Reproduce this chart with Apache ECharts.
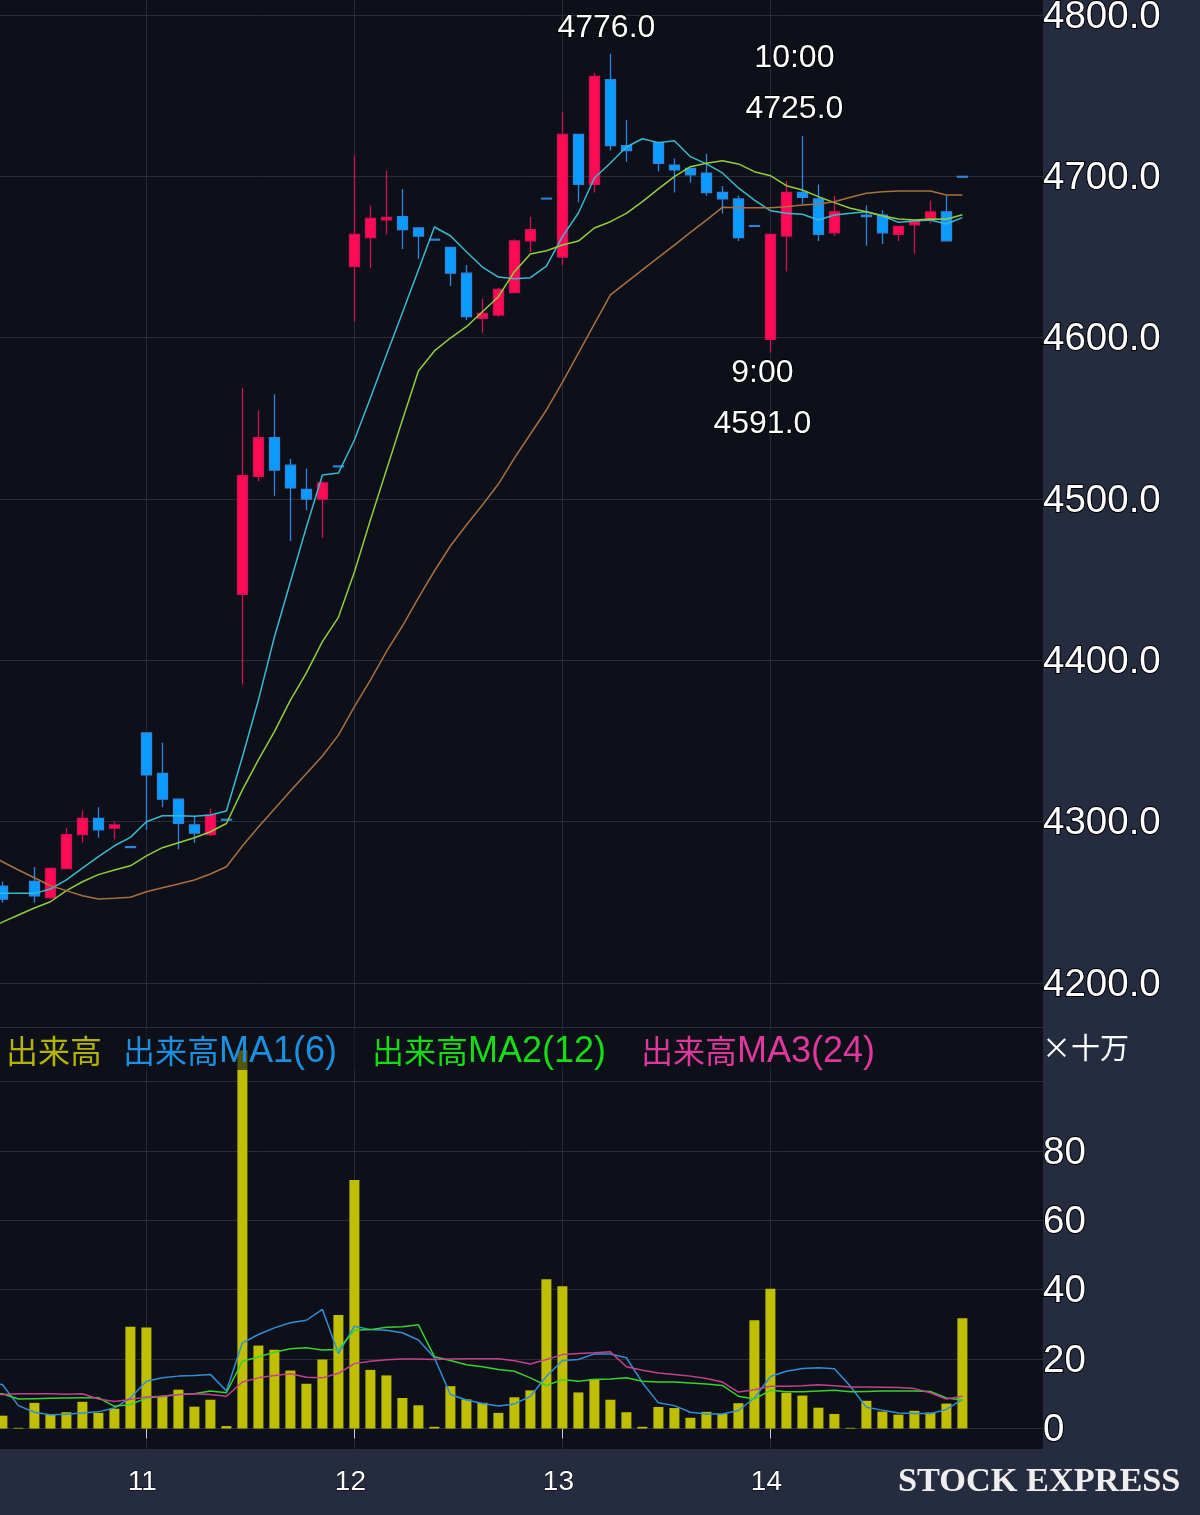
<!DOCTYPE html>
<html>
<head>
<meta charset="utf-8">
<script src="https://cdn.jsdelivr.net/npm/echarts@6/dist/echarts.min.js"></script>
<style>html,body{margin:0;padding:0;background:#262c40}#main{width:1200px;height:1515px}</style>
</head>
<body>
<div id="main"></div>
<script>
// first slot of every list is the bar just off the left edge
var opens  = [null,4260,null,4263,4253,4271,4292,4302,4296,4284.5,4355,4330,4314,4298,4292,4301.5,4441,4514,4538,4521,4506,4500,4520.5,4644,4662,4673,4675,4668,4661,4656,4640,4612,4614,4628,4660,4686.4,4650,4726,4695,4760,4719,null,4721,4707,4705,4702,4690,4686,4669.4,4599,4663,4690,4686,4665,null,4676,4676,4664,4670,4674,4678,4700];
var closes = [null,4252,null,4254,4271,4292,4302,4295,4298,4284,4329,4314,4299,4293,4304,4301,4514.5,4538,4518,4507,4500,4510,4520,4664,4674,4674.5,4667,4663,4660.5,4640,4613,4615,4630,4660,4667,4686,4726,4695,4762,4719,4716,null,4708,4704,4701,4690,4686,4662,4669,4664,4690,4687,4664,4678,null,4675,4665,4669,4672,4678,4660,4699.5];
var lows   = [null,4250,null,4250,4252,4271,4287,4290,4289,4284,4295,4309,4283,4287,4291,4301,4385,4511,4502,4474,4493,4476,4520,4610,4643,4664,4655,4649,4660.5,4632,4611,4603,4613,4628,4653,4686,4645,4684,4690,4716,4709,null,4703,4690,4696,4688,4677,4660,4669,4591,4641,4683,4660,4663,null,4657,4658,4660,4652,4671,4660,4699.5];
var highs  = [null,4263,null,4272,4271,4296,4307,4309,4300,4284.5,4355,4349,4314,4303,4308,4301.5,4569,4555,4565,4525,4519,4511,4520.5,4713,4682,4703.5,4692,4668,4661,4656,4645,4624,4631,4661,4675,4686.4,4740,4726,4764,4776,4735,null,4721,4711,4705,4714,4694,4688,4669.4,4664,4697,4725,4695,4688,null,4682,4679,4669,4672,4685,4688,4700];

var priceMa1 = [4255.6,4255.6,4255.6,4255.6,4258.3,4263.9,4271.3,4278.3,4285.1,4290.3,4300,4303.7,4303.7,4303.4,4304.2,4306.6,4340.1,4375.4,4414.5,4448.6,4482.7,4514.9,4516.1,4536.6,4562.6,4589.3,4615.5,4642,4668.6,4663.2,4653.3,4643.8,4637.6,4636.6,4637.2,4644.4,4662.6,4677.3,4699,4708.3,4718.2,4723.3,4720.9,4722.1,4712.2,4707.7,4702.1,4692.8,4685.3,4678.7,4677.1,4676.5,4672.9,4676,4677.1,4678.1,4675.6,4671.5,4672.3,4672.9,4670.5,4674.4];
var priceMa2 = [4232.9,4237.8,4242.2,4246.5,4250.4,4257.3,4262.8,4267.2,4270.1,4272.7,4278.8,4283.9,4287,4290.1,4293.8,4298.9,4319.7,4338.3,4355.8,4375.4,4392.2,4411.6,4426.7,4454.8,4487,4518,4549,4579.4,4591.8,4599.8,4606.8,4616.1,4625.4,4640.9,4651.9,4653.9,4657.4,4659.9,4668,4671.9,4677.1,4684.3,4692.2,4699.8,4706,4708.1,4709.7,4707.7,4702.9,4700.4,4694.2,4691.5,4687.4,4683.7,4680.2,4678.1,4675.6,4673.6,4672.9,4673.6,4673.4,4676.2];
var priceMa3 = [4280.6,4275.2,4270.1,4265.3,4260.3,4257.3,4254.1,4252.1,4252.5,4253.2,4256.6,4259.1,4261.4,4263.9,4267.6,4272.1,4285,4296.7,4307.9,4319,4329.9,4340.7,4353.7,4371.3,4387.8,4405.4,4421.3,4438.7,4455.4,4470.9,4483.9,4496.3,4509.3,4525.4,4540.3,4555.2,4572.3,4590.5,4608.5,4626.5,4634.3,4642,4649.8,4657.4,4665.3,4672.9,4680.8,4680.6,4680.6,4680.6,4681.2,4682.2,4682.9,4684.3,4687,4689.5,4690.5,4690.9,4690.9,4690.9,4688.4,4688.4];

var volume = [null,3.7,0.2,7.4,4,4.7,7.7,4.5,5.7,29.3,29.1,9.3,11.2,6.3,8.3,0.7,109,23.9,22.7,16.7,12.9,19.9,32.7,71.6,16.9,15.3,8.8,6.7,0.5,12.2,8.4,7.4,4.5,9,11,43,41,10.4,14.3,8.3,4.7,0.5,6.2,5.9,3.1,4.8,4.2,7.3,31.2,40.3,10.3,9.5,6,4.2,0.2,8,4.9,4,5.1,4.6,7.2,31.8];
var volMa1 = [13,12.7,6.6,4.7,4,4.1,4.5,4.8,5.9,8.8,13.6,14.6,15.1,15.3,15.6,10.8,24.7,27.1,29,30.5,31.2,34.3,21.6,29.5,28.5,28.3,27.6,25.5,20.4,9.8,8.2,7.2,6.5,7.1,9.3,15,19.6,19.9,21.5,21.5,20.4,13.2,7.4,6.6,4.7,4.2,4.2,5.2,8.8,15,16.5,17.3,17.5,17.2,12.2,6.1,5.3,4.5,4.3,4.3,5.5,8.4];
var volMa2 = [10.2,10,8.5,8.6,8.7,8.8,8.9,8.9,6.4,6.9,8.8,9.3,9.8,10,10.8,10.3,19.4,20.6,22,23,23.3,22.6,22.8,28.3,28.5,29.2,29.3,29.9,20.7,19.6,18.4,17.8,17,16.5,14.6,12.4,14.1,13.6,14.1,14.3,14.6,13.6,13.4,13.4,13.1,12.8,12.4,9.3,8.5,11,10.6,10.6,10.8,11,10.6,10.7,10.8,10.8,10.8,10.7,8.8,8.2];
var volMa3 = [9.8,9.8,10,10,10,9.9,10,8.5,7.8,8.4,9.1,9.3,9.7,10,9.8,9.3,13.4,14.6,15.3,15.8,14.8,14.6,15.9,18.7,19.4,19.8,20,20,19.9,20,20.1,20.1,20.1,19.5,18.6,19.9,21.3,21.6,21.8,22.1,17.8,16.8,16,15.6,15.1,14.4,13.4,10.5,11.2,12.2,12.2,12.3,12.6,12.3,12,12,11.9,11.8,11.5,10.3,8.5,9.3];

var dayTicks = [10, 23, 36, 49];
var dayLabels = ['11', '12', '13', '14'];
var priceTicks = [4200, 4300, 4400, 4500, 4600, 4700, 4800];
var volLabelTicks = [0, 20, 40, 60, 80];
var volGridTicks = [0, 20, 40, 60, 80, 100];
var legendNames = ['出来高', '出来高MA1(6)', '出来高MA2(12)', '出来高MA3(24)'];
var legendColors = ['#b4b400', '#1b8fe0', '#16dc16', '#e0379c'];

var gridColor = '#292c37';
var plotColor = '#0e1019';
var labelFont = 'Liberation Sans';

function pairs(list) {
    var out = [];
    for (var i = 0; i < list.length; i++) {
        if (list[i] !== null) out.push([i, list[i]]);
    }
    return out;
}

var candles = [];
for (var i = 0; i < opens.length; i++) {
    if (opens[i] !== null) candles.push([i, opens[i], closes[i], lows[i], highs[i]]);
}

function maLine(name, list, color, axis) {
    return {
        name: name,
        type: 'line',
        xAxisIndex: axis,
        yAxisIndex: axis,
        data: pairs(list),
        symbol: 'none',
        z: 5,
        lineStyle: {color: color, width: 1.5}
    };
}

function note(x, price, text, offset) {
    return {coord: [x, price], label: {formatter: text, offset: offset}};
}

var xBase = {
    type: 'value',
    min: 0.85,
    max: 0.85 + 1043 / 16,
    axisLine: {show: false},
    axisTick: {show: false, customValues: dayTicks},
    splitLine: {show: true, lineStyle: {color: gridColor, width: 1}}
};

// top aligned with a tiny line box, puts the digits centred on the grid line
var tickLabel = {
    margin: 0,
    verticalAlign: 'top',
    lineHeight: 4,
    color: '#fff',
    fontFamily: labelFont,
    fontSize: 38.5,
    textBorderColor: '#000',
    textBorderWidth: 2
};

var myChart = echarts.init(document.getElementById('main'));

option = {
    animation: false,
    backgroundColor: '#262c40',
    grid: [
        {left: 0, top: 0, width: 1043, height: 1027, show: true, backgroundColor: plotColor, borderWidth: 0, outerBoundsMode: 'none'},
        {left: 0, top: 1027, width: 1043, height: 422, show: true, backgroundColor: plotColor, borderWidth: 0, outerBoundsMode: 'none'}
    ],
    legend: {
        left: 0,
        top: 1028,
        orient: 'horizontal',
        selectedMode: false,
        icon: 'rect',
        itemWidth: 0,
        itemHeight: 0,
        itemGap: 16,
        padding: [6, 8, 0, 1],
        backgroundColor: 'rgba(14,16,25,0.6)',
        z: 20,
        data: legendNames.map(function (n, k) {
            return {name: n, textStyle: {color: legendColors[k]}};
        }),
        formatter: function (n) {
            if (n.length === 3) return '{a|' + n + '}';
            return '{a|' + n.slice(0, 3) + '}{b|' + n.slice(3) + '}';
        },
        textStyle: {
            rich: {
                a: {fontFamily: 'Noto Sans CJK JP', fontSize: 32, lineHeight: 38, verticalAlign: 'middle'},
                b: {fontFamily: labelFont, fontSize: 36, lineHeight: 32, verticalAlign: 'bottom', padding: [0, 14, 0, 0]}
            }
        }
    },
    xAxis: [
        Object.assign({}, xBase, {
            gridIndex: 0,
            axisLine: {show: true, lineStyle: {color: gridColor}},
            axisLabel: {show: false}
        }),
        Object.assign({}, xBase, {
            gridIndex: 1,
            axisTick: {show: true, length: 10, customValues: dayTicks, lineStyle: {color: '#c8cad0'}},
            axisLabel: {
                customValues: dayTicks,
                margin: 19,
                padding: [0, 8, 0, 0],
                color: '#fff',
                fontFamily: labelFont,
                fontSize: 28,
                textBorderColor: '#000',
                textBorderWidth: 1,
                formatter: function (v) { return dayLabels[dayTicks.indexOf(v)]; }
            }
        })
    ],
    yAxis: [
        {
            type: 'value',
            gridIndex: 0,
            position: 'right',
            min: 4172.77,
            max: 4809.3,
            axisLine: {show: false},
            axisTick: {show: false, customValues: priceTicks},
            splitLine: {lineStyle: {color: gridColor, width: 1}},
            axisLabel: Object.assign({}, tickLabel, {
                customValues: priceTicks,
                formatter: function (v) { return v.toFixed(1); }
            })
        },
        {
            type: 'value',
            gridIndex: 1,
            position: 'right',
            min: -5.9,
            max: 115.7,
            axisLine: {show: false},
            axisTick: {show: false, customValues: volGridTicks},
            splitLine: {lineStyle: {color: gridColor, width: 1}},
            axisLabel: Object.assign({}, tickLabel, {customValues: volLabelTicks})
        }
    ],
    series: [
        {
            name: 'price',
            type: 'candlestick',
            xAxisIndex: 0,
            yAxisIndex: 0,
            barWidth: 10,
            data: candles,
            z: 3,
            itemStyle: {
                color: '#ff0a54',
                color0: '#0a9bff',
                borderColor: '#d40f55',
                borderColor0: '#2f86e0',
                borderWidth: 1.3
            },
            markPoint: {
                symbol: 'circle',
                symbolSize: 1,
                itemStyle: {color: 'transparent'},
                label: {
                    show: true,
                    position: 'inside',
                    color: '#fff',
                    fontFamily: labelFont,
                    fontSize: 32,
                    lineHeight: 51,
                    textBorderColor: '#000',
                    textBorderWidth: 2
                },
                data: [
                    note(39, 4776, '4776.0', [-4, -26]),
                    note(51, 4725, '10:00\n4725.0', [-8, -52]),
                    note(49, 4591, '9:00\n4591.0', [-8, 46])
                ]
            }
        },
        maLine('priceMA1', priceMa1, '#39b9cf', 0),
        maLine('priceMA2', priceMa2, '#8fcf3e', 0),
        maLine('priceMA3', priceMa3, '#a9703f', 0),
        {
            name: legendNames[0],
            type: 'bar',
            xAxisIndex: 1,
            yAxisIndex: 1,
            barWidth: 10,
            z: 3,
            data: pairs(volume),
            itemStyle: {color: '#bfbf00'}
        },
        maLine(legendNames[1], volMa1, '#2f8fd6', 1),
        maLine(legendNames[2], volMa2, '#36d22e', 1),
        maLine(legendNames[3], volMa3, '#c2428f', 1)
    ],
    graphic: [
        {
            type: 'text',
            left: 1042,
            top: 1033,
            z: 30,
            style: {text: '×十万', fill: '#fff', font: '29px "Noto Sans CJK JP"'}
        },
        {
            type: 'text',
            left: 898,
            top: 1465,
            z: 30,
            style: {text: 'STOCK EXPRESS', fill: '#eeeeee', font: 'bold 34.3px "Liberation Serif"'}
        }
    ]
};

myChart.setOption(option);
</script>
</body>
</html>
